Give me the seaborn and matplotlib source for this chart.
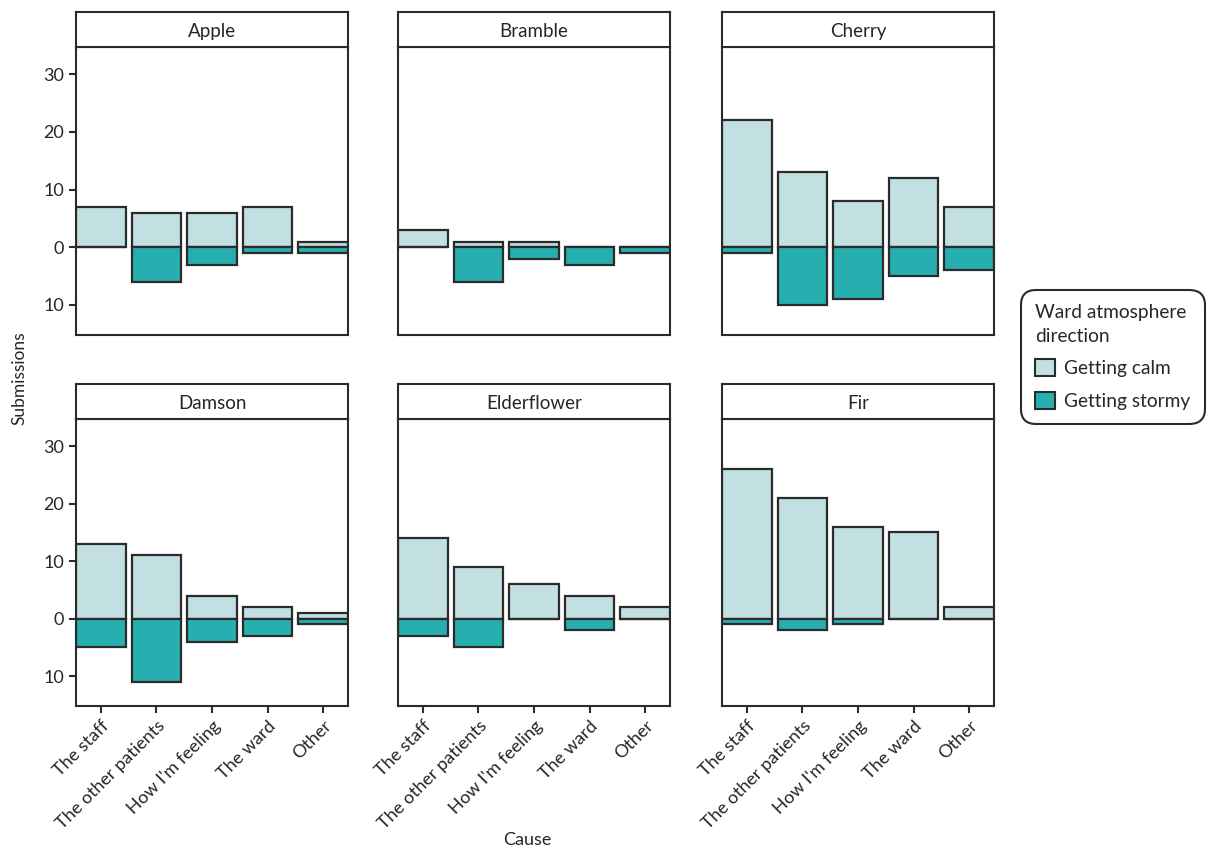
import pandas as pd
import matplotlib.pyplot as plt
import seaborn as sns
from matplotlib.patches import Patch
from matplotlib.ticker import FuncFormatter

# Data
wards = ['Apple', 'Bramble', 'Cherry', 'Damson', 'Elderflower', 'Fir']
causes = ['The staff', 'The other patients', "How I'm feeling", 'The ward', 'Other']

apple_calm = [7, 6, 6, 7, 1]
apple_stormy = [0, 6, 3, 1, 1]
bramble_calm = [3, 1, 1, 0, 0]
bramble_stormy = [0, 6, 2, 3, 1]
cherry_calm = [22, 13, 8, 12, 7]
cherry_stormy = [1, 10, 9, 5, 4]
damson_calm = [13, 11, 4, 2, 1]
damson_stormy = [5, 11, 4, 3, 1]
elder_calm = [14, 9, 6, 4, 2]
elder_stormy = [3, 5, 0, 2, 0]
fir_calm = [26, 21, 16, 15, 2]
fir_stormy = [1, 2, 1, 0, 0]

calm_lists = [apple_calm, bramble_calm, cherry_calm, damson_calm, elder_calm, fir_calm]
stormy_lists = [apple_stormy, bramble_stormy, cherry_stormy, damson_stormy, elder_stormy, fir_stormy]

rows = []
for ward, calm, stormy in zip(wards, calm_lists, stormy_lists):
    for cause, c, s in zip(causes, calm, stormy):
        rows.append({'Ward': ward, 'Cause': cause, 'Calm': c, 'Stormy': -s})
data = pd.DataFrame(rows)

calm_col = '#c2e0e1'
stormy_col = '#27aeaf'
edge = '#2b2b2b'
text_col = '#262626'

sns.set_style('white')
plt.rcParams['font.family'] = ['Lato', 'DejaVu Sans']
plt.rcParams['text.color'] = text_col
plt.rcParams['xtick.color'] = edge
plt.rcParams['ytick.color'] = edge
plt.rcParams['xtick.labelcolor'] = text_col
plt.rcParams['ytick.labelcolor'] = text_col

W, H = 1208, 852
fig = plt.figure(figsize=(W / 100, H / 100), dpi=100)

col_left = [76, 398, 722]
panel_w = 272
row_strip_top = [12, 384]
strip_h = 35
panel_h = [288, 287]

for i, ward in enumerate(wards):
    r, c = divmod(i, 3)
    left = col_left[c]
    top = row_strip_top[r] + strip_h
    ax = fig.add_axes([left / W, 1 - (top + panel_h[r]) / H, panel_w / W, panel_h[r] / H])
    sub = data[data['Ward'] == ward]
    sns.barplot(data=sub, x='Cause', y='Calm', order=causes, color=calm_col, width=0.9,
                edgecolor=edge, linewidth=1.6, saturation=1, errorbar=None, ax=ax)
    sns.barplot(data=sub, x='Cause', y='Stormy', order=causes, color=stormy_col, width=0.9,
                edgecolor=edge, linewidth=1.6, saturation=1, errorbar=None, ax=ax)
    ax.set_xlim(-0.45, 4.45)
    ax.set_ylim(-15.2, 34.7)
    ax.set_yticks([-10, 0, 10, 20, 30])
    ax.yaxis.set_major_formatter(FuncFormatter(lambda v, p: f'{abs(int(v))}'))
    ax.set_xlabel('')
    ax.set_ylabel('')
    for s in ax.spines.values():
        s.set_color(edge)
        s.set_linewidth(1.5)
        s.set_visible(True)
    ax.tick_params(axis='both', length=5, width=1.5, labelsize=13, direction='out')
    if c != 0:
        ax.tick_params(axis='y', left=False, labelleft=False)
    else:
        ax.tick_params(axis='y', left=True)
    if r == 0:
        ax.tick_params(axis='x', bottom=False, labelbottom=False)
    else:
        ax.tick_params(axis='x', bottom=True)
        plt.setp(ax.get_xticklabels(), rotation=45, ha='right', rotation_mode='anchor')

    # facet strip
    sax = fig.add_axes([left / W, 1 - top / H, panel_w / W, strip_h / H])
    sax.set_xticks([])
    sax.set_yticks([])
    sax.set_facecolor('white')
    for s in sax.spines.values():
        s.set_color(edge)
        s.set_linewidth(1.5)
    sax.text(0.5, 0.45, ward, ha='center', va='center', fontsize=13.5, transform=sax.transAxes)

fig.text(19 / W, 1 - 378 / H, 'Submissions', rotation=90, ha='center', va='center', fontsize=12.5)
fig.text(527 / W, 1 - 840 / H, 'Cause', ha='center', va='center', fontsize=13)

handles = [Patch(facecolor=calm_col, edgecolor=edge, linewidth=1.5, label='Getting calm'),
           Patch(facecolor=stormy_col, edgecolor=edge, linewidth=1.5, label='Getting stormy')]
leg = fig.legend(handles=handles, title='Ward atmosphere\ndirection', loc='upper left',
                 bbox_to_anchor=(1021 / W, 1 - 290 / H), fontsize=13.8, title_fontsize=13.8,
                 frameon=True, fancybox=True, edgecolor=edge, framealpha=1,
                 handlelength=1.0, handleheight=1.0,
                 alignment='left', borderpad=0.75, labelspacing=0.75, handletextpad=0.5,
                 borderaxespad=0)
leg.get_title().set_linespacing(1.45)
leg.get_frame().set_linewidth(1.5)
leg.get_frame().set_boxstyle('round', pad=0, rounding_size=0.8)

fig.savefig('out.png', dpi=100)
